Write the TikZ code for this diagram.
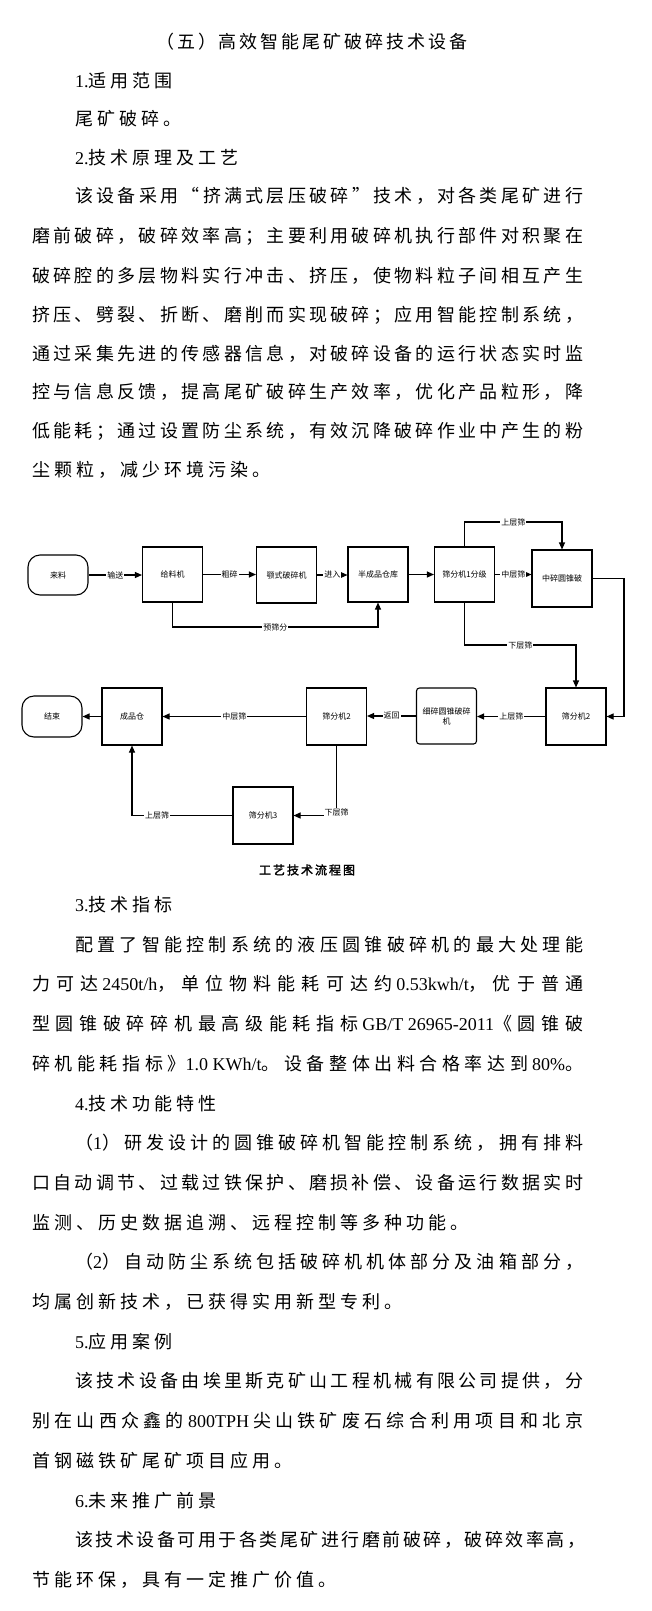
\documentclass[tikz,border=0pt]{standalone}
\usepackage{fontspec}
\newfontfamily\cjk{Noto Sans CJK SC}
\newfontfamily\cjkb[FakeBold=2]{Noto Sans CJK SC}
\newfontfamily\lat{Liberation Serif}
\usetikzlibrary{arrows.meta}
% --- own character class for CJK characters and punctuation
\newcount\mycnt
\mycnt="4E00
\loop \XeTeXcharclass\mycnt=200 \advance\mycnt by 1 \ifnum\mycnt<"A000 \repeat
\mycnt="3000
\loop \XeTeXcharclass\mycnt=200 \advance\mycnt by 1 \ifnum\mycnt<"3040 \repeat
\mycnt="FF00
\loop \XeTeXcharclass\mycnt=200 \advance\mycnt by 1 \ifnum\mycnt<"FFF0 \repeat
\XeTeXcharclass"201C=200
\XeTeXcharclass"201D=200
\newcommand\cjkgap{4pt}
\newcommand\cjkglue{\hskip\cjkgap plus 1fil minus 1.5pt\relax}
\XeTeXinterchartoks 0 200 = {\cjkglue}
\XeTeXinterchartoks 200 0 = {\cjkglue}
\XeTeXinterchartoks 200 200 = {\cjkglue}
\XeTeXinterchartokenstate=1
\newcommand\bodyfont{\cjk\fontsize{18pt}{22pt}\selectfont\XeTeXinterchartokenstate=1\relax}
\newcommand\capfont{\cjkb\fontsize{12pt}{14pt}\selectfont\XeTeXinterchartokenstate=1\relax\def\cjkgap{2pt}}
\newcommand\chartfont{\cjk\fontsize{8pt}{10pt}\selectfont\XeTeXinterchartokenstate=0\relax}
\newcommand\fullline[1]{\hbox to 551pt{#1}}
\newcommand\indline[1]{\hbox to 508pt{#1}}
\tikzset{
  txt/.style={anchor=base west, inner sep=0pt, font=\bodyfont},
  box/.style={draw, line width=1.1pt, minimum width=60pt, minimum height=56pt,
              inner sep=1pt, font=\chartfont, align=center},
  term/.style={box, rounded corners=12pt, minimum height=40pt},
  conn/.style={line width=1.1pt, -{Triangle[length=7pt,width=6pt]}},
  lab/.style={fill=white, inner sep=1pt, font=\chartfont}
}
\begin{document}
\begin{tikzpicture}[x=1pt,y=-1pt]
\fill[white] (0,0) rectangle (651,1611);
\useasboundingbox (0,0) rectangle (651,1611);

% ---- text above the chart
\node[txt] (t0) at (156,48.5) {\hbox to 311pt{（五）高效智能尾矿破碎技术设备}};
\node[txt] (t1) at (75,87) {{\lat 1.}适用范围};
\node[txt] (t2) at (75,125.5) {尾矿破碎。};
\node[txt] (t3) at (75,164) {{\lat 2.}技术原理及工艺};
\node[txt] (t4) at (75,202.5) {\indline{该设备采用“挤满式层压破碎”技术，对各类尾矿进行}};
\node[txt] (t5) at (32,242.5) {\fullline{磨前破碎，破碎效率高；主要利用破碎机执行部件对积聚在}};
\node[txt] (t6) at (32,282.5) {\fullline{破碎腔的多层物料实行冲击、挤压，使物料粒子间相互产生}};
\node[txt] (t7) at (32,321.5) {\fullline{挤压、劈裂、折断、磨削而实现破碎；应用智能控制系统，}};
\node[txt] (t8) at (32,360.5) {\fullline{通过采集先进的传感器信息，对破碎设备的运行状态实时监}};
\node[txt] (t9) at (32,398.5) {\fullline{控与信息反馈，提高尾矿破碎生产效率，优化产品粒形，降}};
\node[txt] (t10) at (32,437.5) {\fullline{低能耗；通过设置防尘系统，有效沉降破碎作业中产生的粉}};
\node[txt] (t11) at (32,476.5) {尘颗粒，减少环境污染。};

% ---- flow chart
\node[term] (lailiao) at (58,575) {来料};
\node[box, minimum height=55pt] (geiliao) at (172.5,574.5) {给料机};
\node[box] (eshi) at (286.5,575) {颚式破碎机};
\node[box, minimum height=55pt] (bcp) at (378,574.5) {半成品仓库};
\node[box, minimum height=55pt] (s1) at (464.5,574.5) {筛分机1分级};
\node[box, minimum height=57pt] (zs) at (562,578.5) {中碎圆锥破};
\node[box, minimum height=57pt] (s2r) at (576,716.5) {筛分机2};
\node[box, rounded corners=3pt] (xs) at (446.5,716) {细碎圆锥破碎\\机};
\node[box, minimum height=57pt] (s2l) at (336.5,716.5) {筛分机2};
\node[box, minimum height=57pt] (cp) at (132,716.5) {成品仓};
\node[term, minimum height=41pt] (js) at (52,716.5) {结束};
\node[box, minimum height=57pt] (s3) at (263,815.5) {筛分机3};

\coordinate (ytop) at (0,522);
\coordinate (ymid) at (0,645);
\coordinate (ybot) at (0,627);
\coordinate (xr) at (624,0);

\draw[conn] (lailiao.east) -- node[lab]{输送} (lailiao.east -| geiliao.west);
\draw[conn] (geiliao.east) -- node[lab]{粗碎} (geiliao.east -| eshi.west);
\draw[conn] (eshi.east) -- node[lab]{进入} (eshi.east -| bcp.west);
\draw[conn] (bcp.east) -- (bcp.east -| s1.west);
\draw[conn] (s1.east) -- node[lab]{中层筛} (s1.east -| zs.west);
\draw[conn] (s1.north) |- node[lab,pos=0.75]{上层筛} (zs.north |- ytop) -- (zs.north);
\draw[conn] (zs.east) -- (zs.east -| xr) |- (s2r.east);
\draw[conn] (s1.south) |- node[lab,pos=0.75]{下层筛} (s2r.north |- ymid) -- (s2r.north);
\draw[conn] (geiliao.south) |- node[lab,pos=0.75]{预筛分} (bcp.south |- ybot) -- (bcp.south);
\draw[conn] (s2r.west) -- node[lab]{上层筛} (s2r.west -| xs.east);
\draw[conn] (xs.west) -- node[lab]{返回} (xs.west -| s2l.east);
\draw[conn] (s2l.west) -- node[lab]{中层筛} (s2l.west -| cp.east);
\draw[conn] (cp.west) -- (cp.west -| js.east);
\draw[conn] (s2l.south) |- node[lab,pos=0.5,yshift=3pt]{下层筛} (s3.east);
\draw[conn] (s3.west) -| node[lab,pos=0.375]{上层筛} (cp.south);

\node[font=\capfont, anchor=base, inner sep=0pt] (cap) at (307,874.5) {工艺技术流程图};

% ---- text below the chart
\node[txt] (u1) at (75,911.5) {{\lat 3.}技术指标};
\node[txt] (u2) at (75,951.2) {\indline{配置了智能控制系统的液压圆锥破碎机的最大处理能}};
\node[txt] (u3) at (32,990.9) {\fullline{力可达 {\lat 2450t/h}，单位物料能耗可达约 {\lat 0.53kwh/t}，优于普通}};
\node[txt] (u4) at (32,1030.5) {\fullline{型圆锥破碎碎机最高级能耗指标 {\lat GB/T 26965-2011}《圆锥破}};
\node[txt] (u5) at (32,1070.3) {\fullline{碎机能耗指标》{\lat 1.0 KWh/t}。设备整体出料合格率达到 {\lat 80\%}。}};
\node[txt] (u6) at (75,1110) {{\lat 4.}技术功能特性};
\node[txt] (u7) at (75,1149.5) {\indline{（{\lat 1}）研发设计的圆锥破碎机智能控制系统，拥有排料}};
\node[txt] (u8) at (32,1189.5) {\fullline{口自动调节、过载过铁保护、磨损补偿、设备运行数据实时}};
\node[txt] (u9) at (32,1229.1) {监测、历史数据追溯、远程控制等多种功能。};
\node[txt] (u10) at (75,1268.5) {\indline{（{\lat 2}）自动防尘系统包括破碎机机体部分及油箱部分，}};
\node[txt] (u11) at (32,1308.5) {均属创新技术，已获得实用新型专利。};
\node[txt] (u12) at (75,1348.2) {{\lat 5.}应用案例};
\node[txt] (u13) at (75,1387.9) {\indline{该技术设备由埃里斯克矿山工程机械有限公司提供，分}};
\node[txt] (u14) at (32,1427.5) {\fullline{别在山西众鑫的 {\lat 800TPH} 尖山铁矿废石综合利用项目和北京}};
\node[txt] (u15) at (32,1467.3) {首钢磁铁矿尾矿项目应用。};
\node[txt] (u16) at (75,1507) {{\lat 6.}未来推广前景};
\node[txt] (u17) at (75,1546.5) {\indline{该技术设备可用于各类尾矿进行磨前破碎，破碎效率高，}};
\node[txt] (u18) at (32,1586.5) {节能环保，具有一定推广价值。};
\end{tikzpicture}
\end{document}
